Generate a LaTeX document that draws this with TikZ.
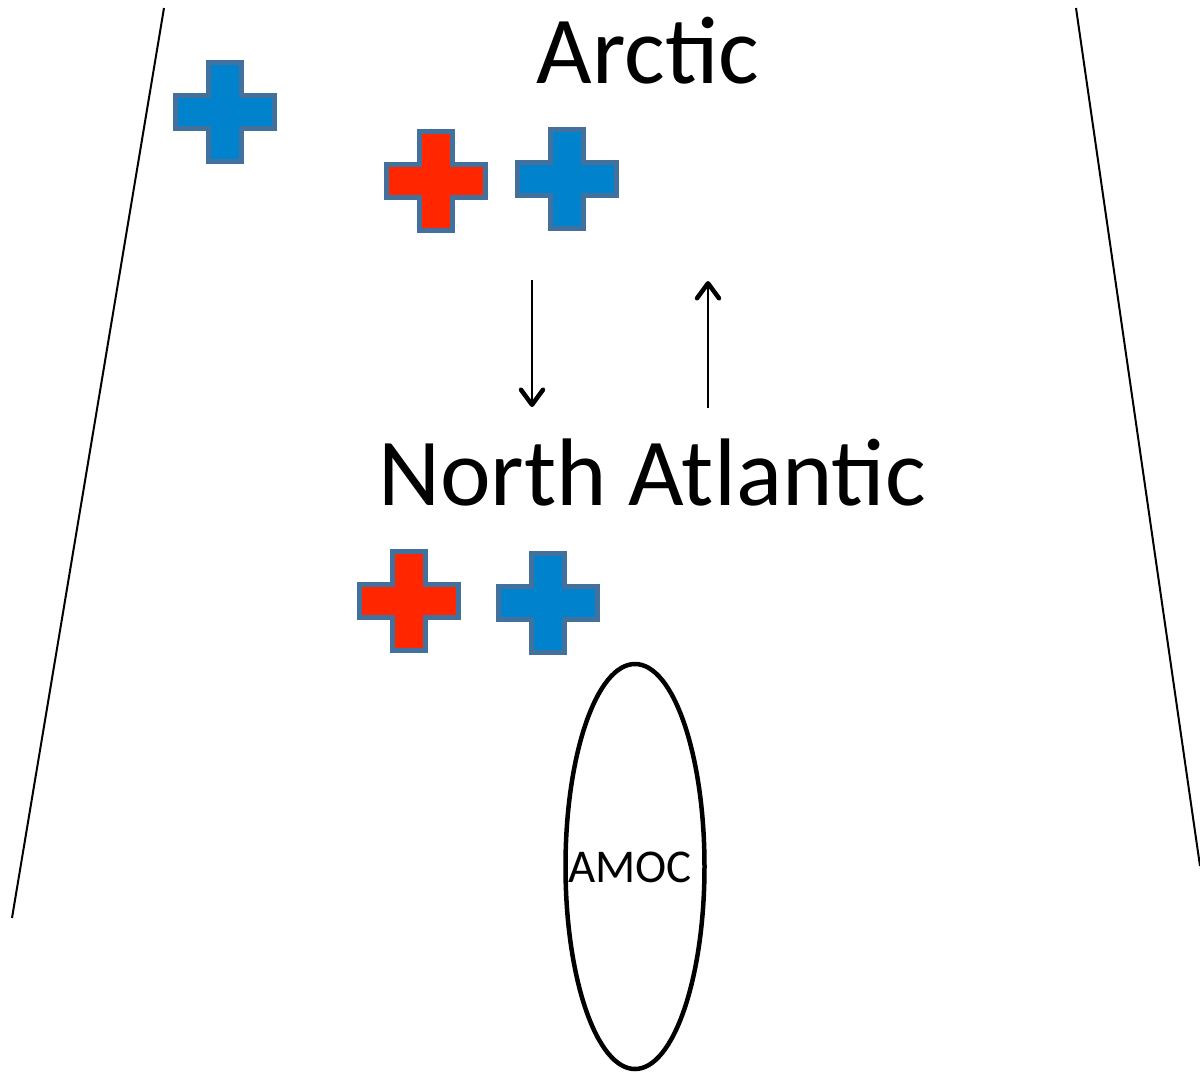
\documentclass[tikz,border=0pt]{standalone}
\usepackage{fontspec}
\setmainfont{Carlito}
\usetikzlibrary{shapes.geometric,arrows.meta}
\definecolor{crossblue}{RGB}{0,130,205}
\definecolor{crossred}{RGB}{255,38,0}
\definecolor{crossedge}{RGB}{65,113,156}
\tikzset{
  x=1pt,y=-1pt,
  sideline/.style={line width=2pt,black},
  flowarrow/.style={line width=2pt,-{Straight Barb[length=15pt,width=22pt,line width=4.5pt,round]}},
  bigtext/.style={font=\fontsize{96}{100}\selectfont,inner sep=0pt,anchor=base},
  pics/plus/.style={code={
    \draw[line width=5pt,crossedge,fill=#1,line join=miter]
      (-16.5,-49.5) -- (16.5,-49.5) -- (16.5,-16.5) -- (49.5,-16.5) -- (49.5,16.5)
      -- (16.5,16.5) -- (16.5,49.5) -- (-16.5,49.5) -- (-16.5,16.5) -- (-49.5,16.5)
      -- (-49.5,-16.5) -- (-16.5,-16.5) -- cycle;
  }}
}
\begin{document}
\begin{tikzpicture}
\useasboundingbox[fill=white] (0,0) rectangle (1200,1072);
% side lines
\coordinate (l1) at (164,8);
\coordinate (l2) at (12,918);
\coordinate (r1) at (1076,8);
\coordinate (r2) at (1200,866);
\draw[sideline] (l1) -- (l2);
\draw[sideline] (r1) -- (r2);
% texts
\node[bigtext] (arctic) at (648,83) {Arctic};
\node[bigtext] (natl) at (652,505) {North Atlantic};
% crosses
\pic at (224.5,111.5) {plus=crossblue};
\pic at (436,180.5) {plus=crossred};
\pic at (567,179) {plus=crossblue};
\pic at (409,601) {plus=crossred};
\pic at (548,603) {plus=crossblue};
% arrows
\coordinate (a1) at (532,280);
\coordinate (a2) at (532,407);
\coordinate (b1) at (708,408);
\coordinate (b2) at (708,281);
\draw[flowarrow] (a1) -- (a2);
\draw[flowarrow] (b1) -- (b2);
% AMOC
\node[draw,ellipse,line width=4.5pt,minimum width=139pt,minimum height=405pt,inner sep=0pt] (amocell) at (635,866.5) {};
\node[font=\fontsize{47}{50}\selectfont,inner sep=0pt,anchor=base] (amoc) at (630,882) {AMOC};
\end{tikzpicture}
\end{document}
